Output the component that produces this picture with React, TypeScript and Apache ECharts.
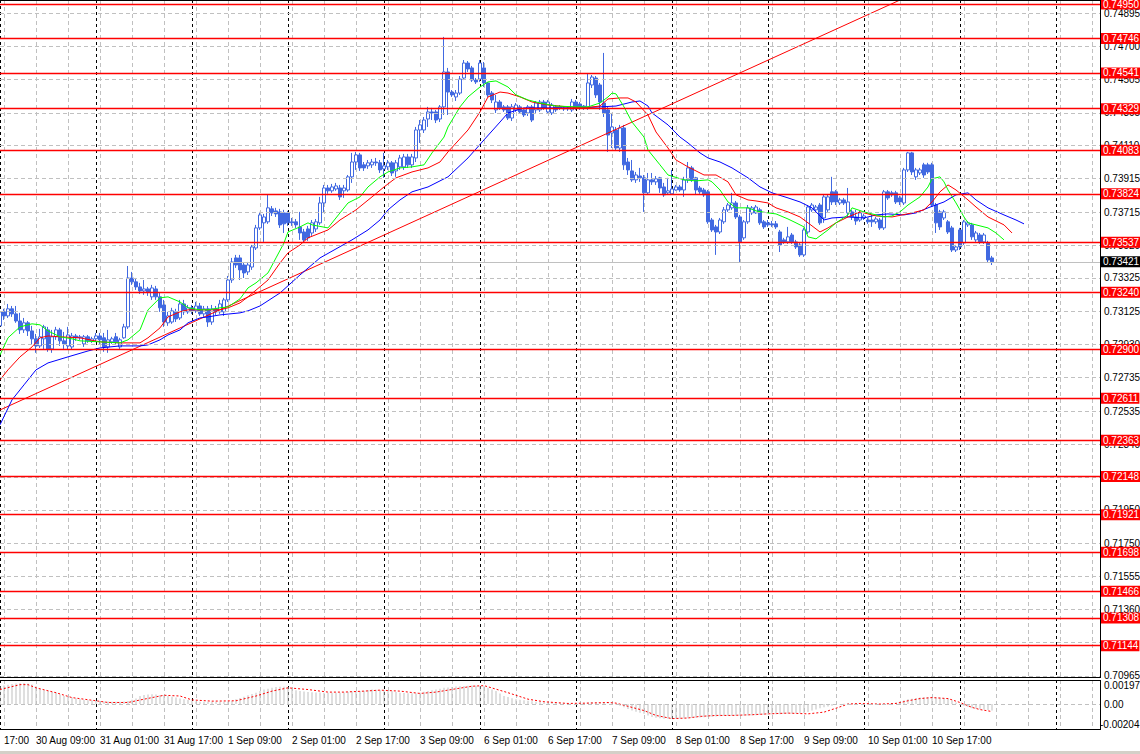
import React, { useEffect, useRef } from "react";
import * as echarts from "echarts";

// ---------- DATA ----------
// H1 candles, bar 0 = 30 Aug 00:00 : [open, close, low, high]
const candles: number[][] = [
  [0.73041, 0.73124, 0.73029, 0.73148],
  [0.73124, 0.73100, 0.73076, 0.73142],
  [0.73100, 0.73142, 0.73088, 0.73171],
  [0.73142, 0.73112, 0.73094, 0.73159],
  [0.73112, 0.73070, 0.73059, 0.73159],
  [0.73070, 0.73017, 0.72993, 0.73118],
  [0.73017, 0.73059, 0.72999, 0.73088],
  [0.73059, 0.73011, 0.72981, 0.73070],
  [0.73011, 0.72964, 0.72928, 0.73041],
  [0.72964, 0.72922, 0.72881, 0.72993],
  [0.72922, 0.72976, 0.72910, 0.73023],
  [0.72964, 0.73035, 0.72898, 0.73047],
  [0.73017, 0.72904, 0.72887, 0.73035],
  [0.72904, 0.72976, 0.72881, 0.73017],
  [0.72976, 0.73017, 0.72958, 0.73035],
  [0.73017, 0.72952, 0.72922, 0.73029],
  [0.72952, 0.72934, 0.72904, 0.73005],
  [0.72922, 0.72987, 0.72898, 0.73035],
  [0.72916, 0.72981, 0.72898, 0.72999],
  [0.72981, 0.72970, 0.72952, 0.72993],
  [0.72970, 0.72976, 0.72958, 0.72987],
  [0.72934, 0.72976, 0.72916, 0.72987],
  [0.72976, 0.72952, 0.72940, 0.72987],
  [0.72952, 0.72964, 0.72940, 0.72976],
  [0.72964, 0.72981, 0.72946, 0.72999],
  [0.72981, 0.72958, 0.72934, 0.72999],
  [0.72970, 0.72916, 0.72887, 0.72999],
  [0.72916, 0.72958, 0.72881, 0.73017],
  [0.72946, 0.72964, 0.72934, 0.72976],
  [0.72976, 0.72946, 0.72928, 0.72999],
  [0.72916, 0.72958, 0.72904, 0.72970],
  [0.72970, 0.73035, 0.72964, 0.73053],
  [0.73035, 0.73325, 0.73023, 0.73396],
  [0.73325, 0.73302, 0.73284, 0.73361],
  [0.73302, 0.73272, 0.73254, 0.73325],
  [0.73272, 0.73248, 0.73230, 0.73296],
  [0.73248, 0.73260, 0.73225, 0.73313],
  [0.73260, 0.73242, 0.73219, 0.73272],
  [0.73213, 0.73266, 0.73195, 0.73284],
  [0.73260, 0.73213, 0.73195, 0.73278],
  [0.73213, 0.73148, 0.73124, 0.73236],
  [0.73165, 0.73064, 0.73035, 0.73195],
  [0.73059, 0.73100, 0.73041, 0.73124],
  [0.73064, 0.73130, 0.73053, 0.73148],
  [0.73124, 0.73082, 0.73064, 0.73142],
  [0.73088, 0.73171, 0.73076, 0.73195],
  [0.73171, 0.73124, 0.73106, 0.73195],
  [0.73124, 0.73148, 0.73112, 0.73165],
  [0.73148, 0.73130, 0.73112, 0.73165],
  [0.73130, 0.73159, 0.73118, 0.73183],
  [0.73159, 0.73112, 0.73100, 0.73177],
  [0.73112, 0.73142, 0.73094, 0.73159],
  [0.73142, 0.73064, 0.73035, 0.73159],
  [0.73064, 0.73142, 0.73047, 0.73165],
  [0.73142, 0.73124, 0.73106, 0.73159],
  [0.73124, 0.73171, 0.73112, 0.73195],
  [0.73124, 0.73195, 0.73100, 0.73207],
  [0.73195, 0.73313, 0.73183, 0.73337],
  [0.73313, 0.73420, 0.73296, 0.73444],
  [0.73444, 0.73402, 0.73385, 0.73462],
  [0.73444, 0.73373, 0.73313, 0.73462],
  [0.73402, 0.73355, 0.73325, 0.73414],
  [0.73361, 0.73402, 0.73343, 0.73420],
  [0.73390, 0.73509, 0.73373, 0.73521],
  [0.73503, 0.73622, 0.73491, 0.73640],
  [0.73622, 0.73699, 0.73610, 0.73717],
  [0.73652, 0.73687, 0.73539, 0.73705],
  [0.73658, 0.73741, 0.73646, 0.73818],
  [0.73735, 0.73711, 0.73693, 0.73752],
  [0.73723, 0.73705, 0.73687, 0.73741],
  [0.73717, 0.73640, 0.73622, 0.73735],
  [0.73711, 0.73646, 0.73592, 0.73729],
  [0.73711, 0.73652, 0.73634, 0.73723],
  [0.73658, 0.73652, 0.73634, 0.73681],
  [0.73658, 0.73640, 0.73622, 0.73675],
  [0.73628, 0.73592, 0.73551, 0.73717],
  [0.73598, 0.73551, 0.73533, 0.73616],
  [0.73616, 0.73563, 0.73545, 0.73634],
  [0.73592, 0.73652, 0.73575, 0.73669],
  [0.73616, 0.73658, 0.73598, 0.73675],
  [0.73652, 0.73770, 0.73640, 0.73806],
  [0.73770, 0.73859, 0.73711, 0.73877],
  [0.73859, 0.73842, 0.73824, 0.73877],
  [0.73842, 0.73865, 0.73830, 0.73883],
  [0.73853, 0.73871, 0.73842, 0.73889],
  [0.73859, 0.73806, 0.73788, 0.73877],
  [0.73842, 0.73859, 0.73800, 0.73877],
  [0.73847, 0.73925, 0.73836, 0.73936],
  [0.73925, 0.74013, 0.73889, 0.74067],
  [0.74013, 0.74055, 0.73966, 0.74073],
  [0.74055, 0.73978, 0.73960, 0.74067],
  [0.73996, 0.73978, 0.73960, 0.74013],
  [0.73990, 0.74008, 0.73972, 0.74025],
  [0.73996, 0.74013, 0.73978, 0.74031],
  [0.74013, 0.74008, 0.73990, 0.74037],
  [0.74008, 0.73966, 0.73948, 0.74025],
  [0.73972, 0.73990, 0.73919, 0.74067],
  [0.73984, 0.74008, 0.73966, 0.74025],
  [0.74008, 0.73948, 0.73930, 0.74019],
  [0.73960, 0.74008, 0.73925, 0.74025],
  [0.73984, 0.74037, 0.73966, 0.74055],
  [0.73984, 0.74043, 0.73966, 0.74061],
  [0.74043, 0.73996, 0.73978, 0.74061],
  [0.73996, 0.74043, 0.73978, 0.74061],
  [0.74037, 0.74203, 0.74013, 0.74221],
  [0.74203, 0.74233, 0.74126, 0.74262],
  [0.74203, 0.74262, 0.74185, 0.74280],
  [0.74268, 0.74310, 0.74221, 0.74340],
  [0.74310, 0.74304, 0.74262, 0.74334],
  [0.74310, 0.74262, 0.74244, 0.74322],
  [0.74268, 0.74340, 0.74250, 0.74351],
  [0.74340, 0.74547, 0.74292, 0.74755],
  [0.74547, 0.74428, 0.74292, 0.74571],
  [0.74428, 0.74411, 0.74399, 0.74440],
  [0.74399, 0.74422, 0.74375, 0.74440],
  [0.74422, 0.74505, 0.74411, 0.74523],
  [0.74511, 0.74600, 0.74499, 0.74618],
  [0.74600, 0.74565, 0.74547, 0.74612],
  [0.74571, 0.74499, 0.74488, 0.74583],
  [0.74499, 0.74488, 0.74476, 0.74511],
  [0.74505, 0.74600, 0.74488, 0.74618],
  [0.74571, 0.74482, 0.74458, 0.74606],
  [0.74482, 0.74411, 0.74399, 0.74488],
  [0.74422, 0.74381, 0.74363, 0.74434],
  [0.74322, 0.74369, 0.74304, 0.74411],
  [0.74369, 0.74334, 0.74322, 0.74381],
  [0.74340, 0.74322, 0.74310, 0.74351],
  [0.74340, 0.74274, 0.74262, 0.74351],
  [0.74274, 0.74340, 0.74256, 0.74357],
  [0.74322, 0.74351, 0.74310, 0.74363],
  [0.74340, 0.74310, 0.74298, 0.74351],
  [0.74322, 0.74292, 0.74280, 0.74334],
  [0.74304, 0.74340, 0.74286, 0.74351],
  [0.74340, 0.74262, 0.74250, 0.74351],
  [0.74322, 0.74363, 0.74304, 0.74375],
  [0.74322, 0.74369, 0.74310, 0.74381],
  [0.74369, 0.74334, 0.74322, 0.74381],
  [0.74310, 0.74369, 0.74298, 0.74381],
  [0.74304, 0.74351, 0.74292, 0.74363],
  [0.74340, 0.74322, 0.74310, 0.74351],
  [0.74334, 0.74340, 0.74322, 0.74351],
  [0.74334, 0.74328, 0.74316, 0.74345],
  [0.74328, 0.74334, 0.74316, 0.74345],
  [0.74322, 0.74369, 0.74310, 0.74387],
  [0.74369, 0.74334, 0.74322, 0.74381],
  [0.74357, 0.74334, 0.74322, 0.74369],
  [0.74345, 0.74334, 0.74322, 0.74351],
  [0.74340, 0.74482, 0.74322, 0.74541],
  [0.74470, 0.74517, 0.74452, 0.74529],
  [0.74511, 0.74411, 0.74393, 0.74523],
  [0.74470, 0.74369, 0.74322, 0.74482],
  [0.74363, 0.74304, 0.74280, 0.74660],
  [0.74322, 0.74173, 0.74073, 0.74340],
  [0.74185, 0.74221, 0.74096, 0.74304],
  [0.74203, 0.74096, 0.74084, 0.74221],
  [0.74096, 0.74215, 0.74073, 0.74233],
  [0.74215, 0.73996, 0.73966, 0.74233],
  [0.74013, 0.73966, 0.73936, 0.74037],
  [0.73960, 0.73907, 0.73895, 0.74025],
  [0.73907, 0.73936, 0.73889, 0.73954],
  [0.73930, 0.73919, 0.73895, 0.73978],
  [0.73919, 0.73830, 0.73717, 0.73936],
  [0.73830, 0.73907, 0.73818, 0.73948],
  [0.73907, 0.73895, 0.73877, 0.73948],
  [0.73895, 0.73913, 0.73877, 0.73930],
  [0.73919, 0.73859, 0.73830, 0.73925],
  [0.73865, 0.73818, 0.73806, 0.73889],
  [0.73830, 0.73842, 0.73818, 0.73919],
  [0.73824, 0.73853, 0.73818, 0.73966],
  [0.73847, 0.73865, 0.73842, 0.73877],
  [0.73865, 0.73847, 0.73836, 0.73877],
  [0.73847, 0.73907, 0.73806, 0.73925],
  [0.73907, 0.73978, 0.73889, 0.74013],
  [0.73978, 0.73907, 0.73895, 0.73990],
  [0.73919, 0.73847, 0.73818, 0.73925],
  [0.73859, 0.73836, 0.73824, 0.73871],
  [0.73847, 0.73818, 0.73806, 0.73859],
  [0.73836, 0.73658, 0.73646, 0.73847],
  [0.73669, 0.73610, 0.73598, 0.73681],
  [0.73628, 0.73598, 0.73462, 0.73640],
  [0.73598, 0.73669, 0.73586, 0.73681],
  [0.73658, 0.73729, 0.73646, 0.73746],
  [0.73729, 0.73758, 0.73717, 0.73770],
  [0.73741, 0.73770, 0.73729, 0.73830],
  [0.73770, 0.73687, 0.73675, 0.73782],
  [0.73687, 0.73539, 0.73420, 0.73699],
  [0.73563, 0.73658, 0.73551, 0.73669],
  [0.73658, 0.73741, 0.73646, 0.73758],
  [0.73711, 0.73741, 0.73699, 0.73752],
  [0.73711, 0.73746, 0.73705, 0.73758],
  [0.73729, 0.73652, 0.73640, 0.73741],
  [0.73658, 0.73628, 0.73616, 0.73669],
  [0.73652, 0.73640, 0.73628, 0.73669],
  [0.73646, 0.73640, 0.73628, 0.73663],
  [0.73646, 0.73628, 0.73616, 0.73663],
  [0.73598, 0.73521, 0.73479, 0.73610],
  [0.73551, 0.73539, 0.73527, 0.73563],
  [0.73539, 0.73569, 0.73527, 0.73628],
  [0.73580, 0.73539, 0.73527, 0.73592],
  [0.73539, 0.73509, 0.73497, 0.73551],
  [0.73521, 0.73462, 0.73450, 0.73533],
  [0.73462, 0.73610, 0.73450, 0.73622],
  [0.73598, 0.73746, 0.73586, 0.73758],
  [0.73729, 0.73758, 0.73717, 0.73770],
  [0.73729, 0.73746, 0.73717, 0.73758],
  [0.73758, 0.73652, 0.73640, 0.73770],
  [0.73681, 0.73806, 0.73652, 0.73818],
  [0.73729, 0.73806, 0.73717, 0.73818],
  [0.73836, 0.73776, 0.73758, 0.73925],
  [0.73836, 0.73776, 0.73758, 0.73847],
  [0.73770, 0.73788, 0.73758, 0.73800],
  [0.73788, 0.73770, 0.73758, 0.73800],
  [0.73711, 0.73776, 0.73687, 0.73859],
  [0.73717, 0.73687, 0.73669, 0.73729],
  [0.73687, 0.73663, 0.73640, 0.73729],
  [0.73669, 0.73711, 0.73658, 0.73723],
  [0.73681, 0.73693, 0.73669, 0.73705],
  [0.73669, 0.73658, 0.73646, 0.73681],
  [0.73669, 0.73658, 0.73628, 0.73699],
  [0.73658, 0.73675, 0.73646, 0.73687],
  [0.73669, 0.73622, 0.73610, 0.73681],
  [0.73622, 0.73836, 0.73610, 0.73847],
  [0.73836, 0.73800, 0.73788, 0.73847],
  [0.73830, 0.73818, 0.73806, 0.73842],
  [0.73830, 0.73776, 0.73764, 0.73842],
  [0.73800, 0.73776, 0.73758, 0.73812],
  [0.73770, 0.73966, 0.73758, 0.73978],
  [0.73966, 0.74067, 0.73954, 0.74073],
  [0.74067, 0.73954, 0.73936, 0.74073],
  [0.73925, 0.73966, 0.73907, 0.73978],
  [0.73948, 0.73966, 0.73936, 0.73978],
  [0.73996, 0.73936, 0.73919, 0.74008],
  [0.73996, 0.73954, 0.73942, 0.74008],
  [0.73996, 0.73758, 0.73746, 0.74008],
  [0.73758, 0.73652, 0.73592, 0.73770],
  [0.73717, 0.73628, 0.73610, 0.73729],
  [0.73681, 0.73717, 0.73669, 0.73729],
  [0.73658, 0.73598, 0.73586, 0.73669],
  [0.73622, 0.73491, 0.73479, 0.73634],
  [0.73491, 0.73509, 0.73479, 0.73521],
  [0.73610, 0.73509, 0.73491, 0.73622],
  [0.73533, 0.73658, 0.73521, 0.73669],
  [0.73640, 0.73652, 0.73628, 0.73663],
  [0.73640, 0.73569, 0.73551, 0.73652],
  [0.73551, 0.73592, 0.73539, 0.73604],
  [0.73580, 0.73539, 0.73527, 0.73592],
  [0.73539, 0.73580, 0.73527, 0.73592],
  [0.73533, 0.73432, 0.73414, 0.73545],
  [0.73444, 0.73421, 0.73402, 0.73456],
];

// Alligator lines: [bar index, price]
const lipsGreen: number[][] = [
  [0, 0.72868], [2, 0.7297], [5, 0.73035], [8, 0.73053], [10, 0.73047], [12, 0.73011], [15, 0.72976],
  [18, 0.72964], [20, 0.72952], [25, 0.72946], [30, 0.7294], [32, 0.72958], [35, 0.73017], [37, 0.73136],
  [40, 0.73207], [42, 0.73213], [45, 0.73183], [47, 0.73148], [50, 0.73136], [52, 0.73136], [55, 0.73148],
  [57, 0.73153], [60, 0.73201], [62, 0.73266], [64, 0.73296], [67, 0.73355], [69, 0.73444], [71, 0.73533],
  [72, 0.73598], [75, 0.73628], [77, 0.73652], [78, 0.7364], [82, 0.73622], [85, 0.73711], [87, 0.7377],
  [90, 0.73806], [92, 0.73865], [95, 0.73925], [97, 0.73954], [100, 0.73978], [103, 0.73984], [106, 0.73996],
  [108, 0.74067], [111, 0.74161], [112, 0.74221], [115, 0.7434], [117, 0.74399], [120, 0.74458], [122, 0.74488],
  [124, 0.74494], [127, 0.74458], [129, 0.74411], [132, 0.74381], [135, 0.74363], [139, 0.74345], [144, 0.7434],
  [147, 0.7434], [150, 0.74363], [152, 0.74399], [153, 0.74422], [154, 0.74417], [156, 0.7434], [158, 0.7425],
  [161, 0.74161], [162, 0.74084], [165, 0.73996], [167, 0.73936], [171, 0.73907], [174, 0.73901], [177, 0.73907],
  [178, 0.73895], [180, 0.73847], [182, 0.73776], [184, 0.73741], [187, 0.73741], [189, 0.73723], [192, 0.73711],
  [194, 0.73705], [197, 0.73675], [199, 0.73652], [201, 0.73628], [202, 0.73569], [204, 0.73557], [207, 0.7361],
  [209, 0.73652], [212, 0.73699], [213, 0.73741], [216, 0.73717], [219, 0.73699], [221, 0.73687], [223, 0.73693],
  [225, 0.73717], [227, 0.73758], [230, 0.73806], [232, 0.73865], [233, 0.73913], [235, 0.73925], [236, 0.73895],
  [237, 0.73847], [239, 0.7377], [241, 0.73687], [242, 0.73652], [245, 0.73634], [247, 0.73622], [249, 0.73592],
  [251, 0.73551],
];
const teethRed: number[][] = [
  [0, 0.72721], [2, 0.7278], [5, 0.72857], [8, 0.72916], [10, 0.7297], [12, 0.72981], [15, 0.72976],
  [20, 0.7297], [25, 0.72946], [30, 0.7294], [35, 0.7294], [37, 0.7297], [40, 0.73029], [42, 0.73094],
  [45, 0.73124], [47, 0.73136], [50, 0.73136], [55, 0.73136], [57, 0.73148], [60, 0.73177], [62, 0.73213],
  [67, 0.73313], [70, 0.73414], [72, 0.73474], [75, 0.73521], [77, 0.73563], [82, 0.7361], [85, 0.73669],
  [89, 0.73729], [93, 0.73806], [96, 0.73865], [99, 0.73919], [103, 0.73954], [107, 0.73978], [110, 0.74013],
  [112, 0.74073], [117, 0.74203], [120, 0.7431], [122, 0.74399], [125, 0.74428], [127, 0.74422], [130, 0.74399],
  [133, 0.74369], [137, 0.74351], [142, 0.7434], [146, 0.74334], [150, 0.74345], [152, 0.74387], [155, 0.74393],
  [157, 0.74393], [159, 0.74369], [162, 0.74292], [164, 0.74191], [167, 0.74096], [169, 0.74025], [172, 0.73984],
  [176, 0.73936], [179, 0.73936], [182, 0.73895], [184, 0.73818], [187, 0.73788], [189, 0.73782], [192, 0.7377],
  [194, 0.73741], [197, 0.73717], [200, 0.73687], [202, 0.73652], [205, 0.73598], [207, 0.73622], [209, 0.73652],
  [212, 0.73687], [215, 0.73717], [216, 0.73711], [219, 0.73693], [223, 0.73687], [228, 0.73711], [231, 0.73729],
  [233, 0.73776], [235, 0.73836], [237, 0.73877], [239, 0.73847], [242, 0.73788], [244, 0.73746], [247, 0.73687],
  [251, 0.7364], [253, 0.73592],
];
const jawBlue: number[][] = [
  [0, 0.72454], [3, 0.72602], [6, 0.72691], [9, 0.7278], [12, 0.72821], [17, 0.72857], [22, 0.72892],
  [25, 0.7291], [30, 0.72922], [35, 0.72922], [37, 0.72928], [40, 0.72958], [42, 0.72987], [45, 0.73017],
  [47, 0.73059], [50, 0.73088], [52, 0.73094], [55, 0.73106], [60, 0.73118], [62, 0.7313], [65, 0.73159],
  [70, 0.73236], [75, 0.73343], [80, 0.73444], [88, 0.73551], [92, 0.7361], [95, 0.73669], [97, 0.73729],
  [100, 0.73788], [103, 0.73836], [107, 0.73865], [112, 0.73925], [117, 0.74037], [121, 0.74144], [125, 0.7425],
  [127, 0.74304], [131, 0.74334], [135, 0.74334], [140, 0.74334], [145, 0.74334], [150, 0.7434], [154, 0.74345],
  [158, 0.74369], [160, 0.74375], [162, 0.74345], [163, 0.74304], [167, 0.74233], [170, 0.74161], [172, 0.74126],
  [175, 0.74067], [177, 0.74037], [180, 0.74013], [183, 0.73978], [187, 0.73919], [190, 0.73865], [193, 0.7383],
  [197, 0.738], [200, 0.73776], [203, 0.73741], [206, 0.73669], [208, 0.73681], [212, 0.73687], [216, 0.73681],
  [219, 0.73699], [222, 0.73705], [226, 0.73699], [229, 0.73711], [232, 0.73741], [236, 0.73776], [239, 0.73818],
  [242, 0.7383], [244, 0.73788], [247, 0.73741], [251, 0.73699], [254, 0.73669], [256, 0.73646],
];

// MACD (12,26,9): main histogram per bar and dotted signal line
const macdHist: number[] = [
  0.00146, 0.00153, 0.00159, 0.00164, 0.00168, 0.00171, 0.00172, 0.00169, 0.0016, 0.00145,
  0.00128, 0.00114, 0.00106, 0.00099, 0.00093, 0.00079, 0.00066, 0.00059, 0.00053, 0.00046,
  0.0004, 0.00034, 0.00031, 0.00029, 0.00027, 0.00024, 0.00021, 0.00021, 0.0002, 0.0002,
  0.0002, 0.00021, 0.00026, 0.00035, 0.00045, 0.00066, 0.00074, 0.00078, 0.0008, 0.00078,
  0.00075, 0.00072, 0.00066, 0.00059, 0.00053, 0.00046, 0.0004, 0.00033, 0.00027, 0.00022,
  0.0002, 0.00019, 0.00019, 0.00018, 0.00018, 0.00018, 0.00019, 0.0002, 0.00025, 0.0004,
  0.0005, 0.0006, 0.00072, 0.00082, 0.00093, 0.00106, 0.00119, 0.00126, 0.00133, 0.0014,
  0.00142, 0.00142, 0.0014, 0.00128, 0.00114, 0.00108, 0.00102, 0.00098, 0.00096, 0.00095,
  0.00094, 0.00093, 0.00093, 0.00093, 0.00093, 0.00093, 0.00095, 0.00098, 0.00102, 0.00104,
  0.00106, 0.0011, 0.00115, 0.00119, 0.00117, 0.00115, 0.00114, 0.00109, 0.00104, 0.00098,
  0.00093, 0.00091, 0.00089, 0.00088, 0.00087, 0.00093, 0.001, 0.00106, 0.00113, 0.0012,
  0.00126, 0.00133, 0.00136, 0.0014, 0.00143, 0.00146, 0.00148, 0.0015, 0.00151, 0.0015,
  0.00148, 0.00146, 0.00133, 0.0012, 0.00106, 0.00086, 0.00066, 0.00057, 0.00048, 0.0004,
  0.00035, 0.00031, 0.00027, 0.00023, 0.0002, 0.00016, 0.00013, 0.00012, 0.0001, 0.00009,
  0.00008, 0.00006, 0.00005, 0.00006, 0.00007, 0.00008, 0.00009, 0.00012, 0.00014, 0.00013,
  0.00011, 0.00008, 0.00005, 0.00002, -0.00005, -0.00013, -0.00026, -0.0004, -0.00053, -0.00062,
  -0.00071, -0.0008, -0.00093, -0.00106, -0.00111, -0.00116, -0.0012, -0.0012, -0.00121, -0.0012,
  -0.0012, -0.00118, -0.00116, -0.00115, -0.00112, -0.0011, -0.00108, -0.00106, -0.00104, -0.00102,
  -0.001, -0.00098, -0.00098, -0.00098, -0.00098, -0.00097, -0.00095, -0.00094, -0.00093, -0.00092,
  -0.0009, -0.00089, -0.00087, -0.00086, -0.00084, -0.00083, -0.00081, -0.0008, -0.00079, -0.00077,
  -0.00075, -0.00074, -0.00065, -0.00053, -0.00044, -0.00035, -0.00027, -0.0002, -0.00014, -0.00008,
  -0.00003, 0.00003, 0.00008, 0.00005, 0.00002, 0.0, -0.00002, -0.00004, -0.00006, -0.00007,
  -0.00008, -0.00003, 0.00003, 0.00008, 0.00013, 0.00022, 0.00031, 0.0004, 0.00044, 0.00049,
  0.00053, 0.00056, 0.00058, 0.0006, 0.00056, 0.00053, 0.00049, 0.00045, 0.00029, 0.00013,
  0.0, -0.00013, -0.00024, -0.00034, -0.00038, -0.00042, -0.00045, -0.00049, -0.00053,
];
const macdSignal: number[][] = [
  [0, 0.00119], [5, 0.00159], [7, 0.00159], [9, 0.00133], [14, 0.00093], [18, 0.00053], [24, 0.00027],
  [27, 0.00013], [32, 0.00013], [36, 0.0004], [41, 0.00072], [45, 0.00066], [48, 0.00034], [53, 0.00024],
  [59, 0.00027], [64, 0.00066], [68, 0.00106], [72, 0.00133], [77, 0.00119], [82, 0.00098], [86, 0.00098],
  [91, 0.00106], [95, 0.00114], [100, 0.00106], [105, 0.00087], [109, 0.00098], [114, 0.00125], [118, 0.00146],
  [121, 0.00151], [127, 0.00093], [132, 0.0004], [136, 0.00019], [142, 0.00005], [147, 0.00008], [152, 0.00013],
  [154, 0.00008], [158, -0.00027], [161, -0.00053], [164, -0.00093], [168, -0.00119], [172, -0.00114],
  [175, -0.00101], [179, -0.00093], [183, -0.00093], [188, -0.00087], [192, -0.0008], [197, -0.00074],
  [202, -0.0008], [206, -0.00066], [209, -0.00034], [212, 0.0], [215, 0.00005], [220, 0.0], [224, 0.00005],
  [227, 0.00027], [230, 0.00045], [233, 0.00053], [237, 0.00045], [240, 0.00013], [243, -0.00027],
  [245, -0.00045], [248, -0.00061],
];

// horizontal support / resistance levels (red) and the current bid
const levelPrices: string[] = [
  "0.74950", "0.74746", "0.74541", "0.74329", "0.74083", "0.73824", "0.73537", "0.73240", "0.72900",
  "0.72611", "0.72363", "0.72148", "0.71921", "0.71698", "0.71466", "0.71308", "0.71144",
];
const bidPrice = "0.73421";
// price-scale grid values and their tick labels ("" = label fully covered by a level box)
const priceGrid: string[] = [
  "0.74895", "0.74700", "0.74505", "0.74305", "0.74110", "0.73915", "0.73715", "0.73520", "0.73325",
  "0.73125", "0.72930", "0.72735", "0.72535", "0.72340", "0.72145", "0.71950", "0.71750", "0.71555",
  "0.71360", "0.71165", "0.70965",
];
const coveredTicks: string[] = ["0.72145", "0.71165"];
const macdTicks = { top: "0.00197", zero: "0.00", bottom: "-0.00204" };
// trend line anchors [bar index, price]
const trendLine: number[][] = [[0, 0.72542], [240, 0.75136]];
// time labels by bar index
const timeLabels: Record<number, string> = {
  9: "30 Aug 09:00", 25: "31 Aug 01:00", 41: "31 Aug 17:00", 57: "1 Sep 09:00", 73: "2 Sep 01:00",
  89: "2 Sep 17:00", 105: "3 Sep 09:00", 121: "6 Sep 01:00", 137: "6 Sep 17:00", 153: "7 Sep 09:00",
  169: "8 Sep 01:00", 185: "8 Sep 17:00", 201: "9 Sep 09:00", 217: "10 Sep 01:00", 233: "10 Sep 17:00",
};
const partialFirstLabel = "17:00";

// ---------- LAYOUT ----------
const SLOTS = 276; // bars incl. empty right shift area
const FONT = "'Liberation Sans', Arial, sans-serif";
const GRID_GRAY = "#c0c0c0";
const CANDLE_BLUE = "#4169e1";

export default function App() {
  const ref = useRef<HTMLDivElement>(null);

  useEffect(() => {
    document.body.style.margin = "0";
    if (!ref.current) return;
    const chart = echarts.init(ref.current, undefined, { renderer: "svg" });

    const cats = Array.from({ length: SLOTS }, (_, i) => String(i));
    const isGridCol = (i: number) => i % 8 === 1;
    const isDayCol = (i: number) => i % 24 === 0;

    const grayLine = { show: true, interval: isGridCol, lineStyle: { color: GRID_GRAY, type: [4, 3], width: 1 } };
    const blackLine = { show: true, interval: isDayCol, lineStyle: { color: "#000", type: [3, 3], width: 1 } };
    const hidden = { axisLine: { show: false }, axisTick: { show: false }, axisLabel: { show: false } };

    const tickLabel = { show: true, position: "end", color: "#000", fontSize: 10, fontFamily: FONT, distance: 4 };
    const boxLabel = (t: string, bg: string) => ({
      show: true, position: "end", formatter: t, color: "#fff", backgroundColor: bg,
      padding: [1, 1, 0, 2], fontSize: 10, fontFamily: FONT, distance: 1,
    });
    const mlBase = { symbol: ["none", "none"], silent: true, animation: false, precision: 6 };
    const invisible = { color: "rgba(0,0,0,0)", width: 0 };

    const frame = (x1: number, y1: number, x2: number, y2: number) => ({
      type: "line", silent: true, z: 10, shape: { x1, y1, x2, y2 }, style: { stroke: "#000", lineWidth: 1 },
    });

    const option: any = {
      animation: false,
      backgroundColor: "#ffffff",
      grid: [
        { left: 0, top: 0, width: 1100, height: 678 },
        { left: 0, top: 680, width: 1100, height: 49 },
      ],
      xAxis: [
        { type: "category", gridIndex: 0, data: cats, boundaryGap: false, ...hidden, splitLine: grayLine },
        { type: "category", gridIndex: 0, data: cats, boundaryGap: false, ...hidden, splitLine: blackLine },
        {
          type: "category", gridIndex: 1, data: cats, boundaryGap: false,
          axisLine: { show: false }, axisTick: { show: false }, splitLine: grayLine,
          axisLabel: {
            show: true,
            interval: (i: number) => timeLabels[i] !== undefined,
            formatter: (_v: string, i: number) => timeLabels[i] ?? "",
            align: "left", margin: 6, color: "#000", fontSize: 10, fontFamily: FONT,
          },
        },
        { type: "category", gridIndex: 1, data: cats, boundaryGap: false, ...hidden, splitLine: blackLine },
      ],
      yAxis: [
        { type: "value", gridIndex: 0, min: 0.70952, max: 0.74974, position: "right", ...hidden, splitLine: { show: false } },
        { type: "value", gridIndex: 1, min: -0.00204, max: 0.00197, position: "right", ...hidden, splitLine: { show: false } },
      ],
      series: [
        {
          name: "Trend", type: "line", xAxisIndex: 0, yAxisIndex: 0, data: trendLine, showSymbol: false, z: 4,
          lineStyle: { color: "#ff0000", width: 1 },
          markLine: {
            ...mlBase,
            data: [
              ...priceGrid.map((t) => ({
                yAxis: parseFloat(t), lineStyle: { color: GRID_GRAY, type: [4, 3], width: 1 },
                label: coveredTicks.includes(t) ? { show: false } : { ...tickLabel, formatter: t },
              })),
              { yAxis: parseFloat(bidPrice), lineStyle: { color: GRID_GRAY, type: "solid", width: 1 }, label: boxLabel(bidPrice, "#000") },
              ...levelPrices.map((t) => ({ yAxis: parseFloat(t), lineStyle: { color: "#ff0000", type: "solid", width: 1.3 }, label: boxLabel(t, "#ff0000") })),
            ],
          },
        },
        {
          name: "AUDUSD,H1", type: "candlestick", xAxisIndex: 0, yAxisIndex: 0, data: candles, z: 3, barWidth: 3,
          itemStyle: { color: "#ffffff", color0: CANDLE_BLUE, borderColor: CANDLE_BLUE, borderColor0: CANDLE_BLUE, borderWidth: 1 },
        },
        { name: "Jaw", type: "line", xAxisIndex: 0, yAxisIndex: 0, data: jawBlue, showSymbol: false, z: 4, lineStyle: { color: "#0000ff", width: 1 } },
        { name: "Teeth", type: "line", xAxisIndex: 0, yAxisIndex: 0, data: teethRed, showSymbol: false, z: 4, lineStyle: { color: "#ff0000", width: 1 } },
        { name: "Lips", type: "line", xAxisIndex: 0, yAxisIndex: 0, data: lipsGreen, showSymbol: false, z: 4, lineStyle: { color: "#00ff00", width: 1 } },
        { name: "MACD", type: "bar", xAxisIndex: 2, yAxisIndex: 1, data: macdHist, barWidth: 1, z: 2, itemStyle: { color: "#c0c0c0" } },
        {
          name: "Signal", type: "line", xAxisIndex: 2, yAxisIndex: 1, data: macdSignal, showSymbol: false, z: 3,
          lineStyle: { color: "#ff0000", width: 1, type: [2, 2] },
          markLine: {
            ...mlBase,
            data: [
              { yAxis: 0, lineStyle: { color: GRID_GRAY, type: [4, 3], width: 1 }, label: { ...tickLabel, formatter: macdTicks.zero } },
              { yAxis: 0.00197, lineStyle: invisible, label: { ...tickLabel, formatter: macdTicks.top, verticalAlign: "top" } },
              { yAxis: -0.00204, lineStyle: invisible, label: { ...tickLabel, formatter: macdTicks.bottom, verticalAlign: "bottom", distance: 0 } },
            ],
          },
        },
      ],
      graphic: [
        frame(0, 0.5, 1100, 0.5),
        frame(0, 677.5, 1100.5, 677.5),
        frame(1100.5, 0, 1100.5, 678),
        frame(0, 680.5, 1100.5, 680.5),
        frame(0, 729.5, 1100.5, 729.5),
        frame(1100.5, 680, 1100.5, 730),
        { type: "text", left: 4, top: 735, style: { text: partialFirstLabel, fill: "#000", fontSize: 10, fontFamily: FONT } },
        { type: "rect", left: 0, top: 751, shape: { width: 1140, height: 3 }, style: { fill: "#d4d0c8" } },
      ],
    };

    chart.setOption(option);
    return () => chart.dispose();
  }, []);

  return <div ref={ref} style={{ position: "absolute", left: 0, top: 0, width: 1140, height: 754, background: "#fff" }} />;
}
